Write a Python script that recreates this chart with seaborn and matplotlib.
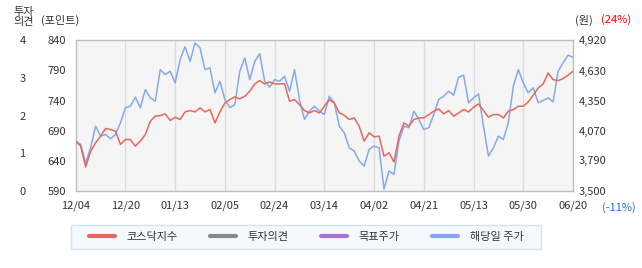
import matplotlib
matplotlib.use("Agg")
import matplotlib.pyplot as plt
from matplotlib.lines import Line2D
from matplotlib.patches import Rectangle
import seaborn as sns
import pandas as pd
import numpy as np

sns.set_style("white")
plt.rcParams['font.family'] = ['Noto Sans CJK KR', 'DejaVu Sans']

# ---- data ----
date_labels = ["12/04", "12/20", "01/13", "02/05", "02/24", "03/14",
               "04/02", "04/21", "05/13", "05/30", "06/20"]

kosdaq = [672.7, 664.4, 630.0, 656.1, 669.9, 681.0, 693.7, 692.0, 689.2, 667.2,
          675.4, 675.4, 664.4, 672.7, 683.7, 705.8, 714.1, 715.2, 717.9, 706.9,
          712.4, 708.6, 721.3, 723.5, 721.3, 727.9, 721.3, 725.1, 703.0, 721.3,
          736.2, 741.7, 746.1, 742.8, 747.2, 755.5, 767.6, 773.1, 767.6, 770.9,
          767.6, 767.6, 768.2, 738.9, 741.7, 733.4, 723.5, 719.6, 723.5, 719.6,
          730.6, 741.7, 736.2, 719.6, 715.7, 708.6, 711.3, 697.5, 672.7, 686.5,
          679.9, 681.0, 647.8, 653.4, 638.0, 681.0, 703.0, 697.5, 708.6, 711.3,
          711.3, 716.8, 722.4, 726.2, 717.9, 723.5, 714.1, 719.6, 725.1, 721.3,
          729.0, 734.5, 723.5, 712.4, 716.8, 716.8, 711.3, 722.4, 725.1, 730.6,
          730.6, 737.8, 748.8, 761.0, 767.6, 785.8, 774.8, 773.1, 776.5, 782.0,
          788.6]

price = [3970, 3939, 3760, 3908, 4111, 4017, 4033, 3992, 4033, 4143,
         4284, 4299, 4384, 4284, 4456, 4378, 4346, 4644, 4597, 4628,
         4519, 4738, 4860, 4722, 4895, 4848, 4644, 4660, 4425, 4534,
         4362, 4284, 4315, 4628, 4754, 4550, 4722, 4794, 4534, 4478,
         4550, 4534, 4581, 4440, 4644, 4362, 4174, 4252, 4299, 4252,
         4221, 4393, 4331, 4111, 4049, 3908, 3876, 3782, 3735, 3892,
         3923, 3908, 3520, 3688, 3657, 3970, 4111, 4096, 4252, 4174,
         4080, 4096, 4221, 4362, 4393, 4440, 4403, 4572, 4591, 4331,
         4378, 4415, 4111, 3829, 3908, 4017, 3986, 4143, 4487, 4644,
         4519, 4425, 4472, 4331, 4353, 4378, 4340, 4628, 4707, 4779,
         4760]

opinion_ticks = [0, 1, 2, 3, 4]
left_ticks = [590, 640, 690, 740, 790, 840]
right_ticks = [3500, 3790, 4070, 4350, 4630, 4920]
legend_labels = ["코스닥지수", "투자의견", "목표주가", "해당일 주가"]

RED = "#e8675a"
BLUE = "#84a9ee"
GRAY = "#888888"
PURPLE = "#a974cf"
TXT = "#333333"

df = pd.DataFrame({"x": np.arange(len(kosdaq)), "kosdaq": kosdaq, "price": price})

W, H = 642, 268
fig = plt.figure(figsize=(W / 100, H / 100), dpi=100)
x0, x1, ytop, ybot = 75.7, 573, 40.3, 191
rect = [x0 / W, (H - ybot) / H, (x1 - x0) / W, (ybot - ytop) / H]
n = len(kosdaq) - 1
xt = np.linspace(0, n, len(date_labels))

# bottom axes: background, grid, blue price line (right scale)
axp = fig.add_axes(rect)
axp.set_facecolor("#f5f5f5")
for xv in xt[1:-1]:
    axp.axvline(xv, color="#dcdcdc", lw=1, zorder=0)
sns.lineplot(data=df, x="x", y="price", ax=axp, color=BLUE, lw=1.1, zorder=3)
axp.set_xlim(0, n)
axp.set_ylim(3500, 4920)
axp.yaxis.tick_right()
axp.set_yticks(right_ticks)
axp.set_yticklabels([f"{v:,}" for v in right_ticks], fontsize=8, color=TXT)
axp.tick_params(axis="y", length=0, pad=4)
axp.set_xticks([])
axp.set_xlabel("")
axp.set_ylabel("")
for s in axp.spines.values():
    s.set_visible(False)

# top axes: red KOSDAQ line (left scale), frame, x ticks
ax = fig.add_axes(rect)
ax.patch.set_visible(False)
sns.lineplot(data=df, x="x", y="kosdaq", ax=ax, color=RED, lw=1.1, zorder=4)
ax.set_xlim(0, n)
ax.set_ylim(590, 840)
ax.set_xticks(xt)
ax.set_xticklabels(date_labels, fontsize=8, color=TXT)
ax.set_yticks(left_ticks)
ax.set_yticklabels([str(v) for v in left_ticks], fontsize=8, color=TXT)
ax.tick_params(axis="both", length=0)
ax.tick_params(axis="x", pad=7)
ax.tick_params(axis="y", pad=7)
ax.set_xlabel("")
ax.set_ylabel("")
for s in ax.spines.values():
    s.set_color("#bdbdbd")
    s.set_linewidth(1)

# far-left investment opinion scale
ax3 = fig.add_axes(rect)
ax3.patch.set_visible(False)
ax3.set_ylim(0, 4)
ax3.set_xticks([])
ax3.spines["left"].set_position(("outward", 36))
ax3.set_yticks(opinion_ticks)
ax3.set_yticklabels([str(v) for v in opinion_ticks], fontsize=8, color=TXT)
ax3.tick_params(axis="y", length=0, pad=0)
for s in ax3.spines.values():
    s.set_visible(False)

fig.text(24 / W, 1 - 12 / H, "투자", fontsize=8, color=TXT, ha="center", va="center")
fig.text(24 / W, 1 - 22 / H, "의견", fontsize=8, color=TXT, ha="center", va="center")
fig.text(41 / W, 1 - 20 / H, "(포인트)", fontsize=8, color=TXT, ha="left", va="center")
fig.text(575 / W, 1 - 20 / H, "(원)", fontsize=8, color=TXT, ha="left", va="center")
fig.text(601 / W, 1 - 20 / H, "(24%)", fontsize=8, color="#ff0000", ha="left", va="center")
fig.text(602 / W, 1 - 208 / H, "(-11%)", fontsize=8, color="#1a73e8", ha="left", va="center")

# legend box
fig.patches.append(Rectangle((71 / W, 1 - 249.3 / H), (541 - 71) / W, 24.3 / H,
                             transform=fig.transFigure, facecolor="#f5f9fe",
                             edgecolor="#d6e2ec", lw=1, zorder=0))
handles = [Line2D([], [], color=c, lw=3) for c in (RED, GRAY, PURPLE, BLUE)]
leg = fig.legend(handles, legend_labels, loc="center", ncol=4,
                 bbox_to_anchor=(306 / W, 1 - 237.3 / H), fontsize=8,
                 frameon=False, handlelength=2.35, handletextpad=1.05,
                 columnspacing=2.9)
for t in leg.get_texts():
    t.set_color(TXT)

fig.savefig("out.png", dpi=100)
